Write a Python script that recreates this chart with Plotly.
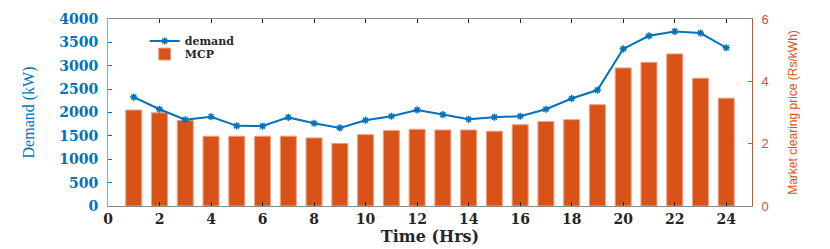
import plotly.graph_objects as go

hours = list(range(1, 25))
demand = [2330, 2070, 1845, 1910, 1715, 1710, 1895, 1770, 1670, 1835, 1920, 2055,
          1955, 1855, 1900, 1920, 2070, 2300, 2480, 3360, 3640, 3735, 3700, 3385]
mcp = [3.08, 2.99, 2.75, 2.24, 2.24, 2.24, 2.24, 2.185, 2.01, 2.29, 2.42, 2.46,
       2.44, 2.44, 2.40, 2.61, 2.71, 2.77, 3.25, 4.43, 4.61, 4.88, 4.10, 3.46]
x_ticks = list(range(0, 25, 2))
left_ticks = list(range(0, 4001, 500))
right_ticks = [0, 2, 4, 6]

BLUE = "#0072BD"
ORANGE = "#D95319"
DARK = "#262626"

fig = go.Figure()
fig.add_trace(go.Scatter(
    x=hours, y=demand, name="demand", yaxis="y2", mode="lines+markers",
    line=dict(color=BLUE, width=2), legend="legend",
    marker=dict(symbol="asterisk-open", size=6, color=BLUE, line=dict(color=BLUE, width=1.5)),
))
fig.add_trace(go.Bar(
    x=hours, y=mcp, name="MCP", yaxis="y", legend="legend2",
    marker=dict(color=ORANGE, line=dict(color="#F0A080", width=1)),
))

leg_font = dict(family="DejaVu Serif", size=11, color=DARK, weight="bold")
fig.update_layout(
    width=830, height=249,
    margin=dict(l=100, r=86, t=11, b=51, autoexpand=False),
    plot_bgcolor="white", paper_bgcolor="white",
    bargap=0.38,
    showlegend=True,
    legend=dict(x=0.057, y=0.96, xanchor="left", yanchor="top",
                bgcolor="rgba(255,255,255,0)", borderwidth=0, font=leg_font),
    legend2=dict(x=0.057, y=0.89, xanchor="left", yanchor="top",
                 bgcolor="rgba(255,255,255,0)", borderwidth=0, font=leg_font),
    xaxis=dict(
        range=[0, 25], tickvals=x_ticks, ticks="inside", ticklen=4,
        tickcolor=DARK, showline=True, linecolor="#8a8a8a", linewidth=1,
        mirror="ticks", showgrid=False, zeroline=False, automargin=False,
        tickfont=dict(family="DejaVu Serif", size=14, color=DARK, weight="bold"),
        title=dict(text="Time (Hrs)", standoff=2,
                   font=dict(family="DejaVu Serif", size=16, color=DARK, weight="bold")),
    ),
    yaxis=dict(
        side="right", range=[0, 6], tickvals=right_ticks, ticks="inside", ticklen=4,
        tickcolor=ORANGE, showline=True, linecolor=ORANGE, linewidth=1,
        showgrid=False, zeroline=False, automargin=False,
        tickfont=dict(family="Liberation Sans", size=13, color=ORANGE),
        ticklabelstandoff=6,
        title=dict(text="Market clearing price (Rs/kWh)", standoff=20,
                   font=dict(family="Liberation Sans Narrow, Liberation Sans", size=12, color=ORANGE)),
    ),
    yaxis2=dict(
        side="left", overlaying="y", range=[0, 4000], tickvals=left_ticks,
        ticks="inside", ticklen=4, tickcolor=BLUE, showline=True, linecolor="#7fb3de",
        linewidth=1, showgrid=False, zeroline=False, automargin=False,
        tickfont=dict(family="DejaVu Serif", size=14, color=BLUE, weight="bold"),
        ticklabelstandoff=6,
        title=dict(text="Demand (kW)", standoff=20,
                   font=dict(family="Liberation Serif", size=16, color=BLUE)),
    ),
)

fig.write_html("out.html")
